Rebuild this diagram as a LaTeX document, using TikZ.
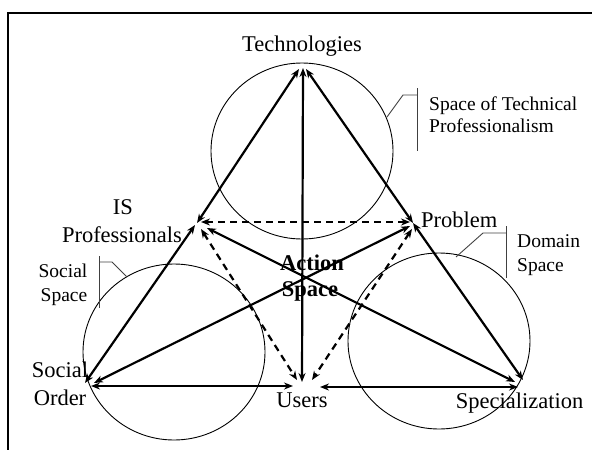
\documentclass[tikz,border=0pt]{standalone}
\usepackage{fontspec}
\setmainfont{Liberation Serif}
\usetikzlibrary{arrows.meta}
\begin{document}
\begin{tikzpicture}[x=1pt,y=-1pt,
  big/.style={font=\fontsize{22.5}{28}\selectfont, inner sep=0pt, anchor=base},
  bigbold/.style={font=\fontsize{22.5}{28}\selectfont\bfseries, inner sep=0pt, anchor=base},
  small/.style={font=\fontsize{19.5}{22}\selectfont, inner sep=0pt, anchor=base west},
  smallc/.style={font=\fontsize{19.5}{22}\selectfont, inner sep=0pt, anchor=base},
  space/.style={line width=0.9pt},
  bracket/.style={line width=0.9pt, black!75},
  link/.style={line width=2.2pt, {Stealth[length=9pt,width=7pt]}-{Stealth[length=9pt,width=7pt]}},
  dlink/.style={link, dash pattern=on 7pt off 5pt}
]
\useasboundingbox (0,0) rectangle (592,450);
% frame
\draw[line width=2pt] (8,451) -- (8,13) -- (594,13);

% circles (spaces)
\draw[space] (302,151) ellipse [x radius=91, y radius=88];
\draw[space] (174,352) ellipse [x radius=91, y radius=88];
\draw[space] (439,341) ellipse [x radius=91, y radius=88];

% labels
\node[big] (tech) at (302,51) {Technologies};
\node[big] (is1) at (123,214) {IS};
\node[big] (is2) at (122,242) {Professionals};
\node[big, anchor=base west] (prob) at (421,227) {Problem};
\node[bigbold] (act1) at (312,270) {Action};
\node[bigbold] (act2) at (310,296) {Space};
\node[big] (so1) at (60,377) {Social};
\node[big] (so2) at (60,405) {Order};
\node[big] (users) at (302,407) {Users};
\node[big] (spec) at (519.5,408) {Specialization};

\node[small] (tp1) at (429,110) {Space of Technical};
\node[small] (tp2) at (429,132) {Professionalism};
\node[small] (ds1) at (517,247) {Domain};
\node[small] (ds2) at (517,271) {Space};
\node[smallc] (ss1) at (63,277) {Social};
\node[smallc] (ss2) at (64,301) {Space};

% brackets
\coordinate (b1a) at (417,88); \coordinate (b1b) at (417,151);
\coordinate (b1c) at (403,95); \coordinate (b1d) at (387,117);
\draw[bracket] (b1a) -- (b1b);
\draw[bracket] (417,95) -- (b1c) -- (b1d);
\coordinate (b2a) at (506,226); \coordinate (b2b) at (506,278);
\coordinate (b2c) at (483,233); \coordinate (b2d) at (456,257);
\draw[bracket] (b2a) -- (b2b);
\draw[bracket] (506,233) -- (b2c) -- (b2d);
\coordinate (b3a) at (99,256); \coordinate (b3b) at (99,308);
\coordinate (b3c) at (112,262); \coordinate (b3d) at (127,277);
\draw[bracket] (b3a) -- (b3b);
\draw[bracket] (99,262) -- (b3c) -- (b3d);

% endpoints
\coordinate (tL) at (299,69);
\coordinate (tM) at (303,68);
\coordinate (tR) at (306,69);
\coordinate (isT) at (197,223);
\coordinate (isB) at (195,225);
\coordinate (isH) at (201,222);
\coordinate (isD) at (201,229);
\coordinate (isX) at (207,228);
\coordinate (pT) at (413,223);
\coordinate (pH) at (410,222);
\coordinate (pD) at (412,229);
\coordinate (pX) at (410,226);
\coordinate (soU) at (85,383);
\coordinate (soX) at (94,383);
\coordinate (soH) at (91,386);
\coordinate (uT) at (302,382);
\coordinate (uL) at (297,380);
\coordinate (uR) at (312,380);
\coordinate (uHL) at (293,386);
\coordinate (uHR) at (320,387);
\coordinate (spX) at (515,382);
\coordinate (spP) at (523,380);
\coordinate (spH) at (518,387);

% connectors
\draw[link] (isT) -- (tL);
\draw[link] (soU) -- (isB);
\draw[link] (tM) -- (uT);
\draw[link] (tR) -- (pT);
\draw[link] (pT) -- (spP);
\draw[link] (isX) -- (spX);
\draw[link] (soX) -- (pX);
\draw[link] (soH) -- (uHL);
\draw[link] (uHR) -- (spH);
\draw[dlink] (isH) -- (pH);
\draw[dlink] (isD) -- (uL);
\draw[dlink] (pD) -- (uR);
\end{tikzpicture}
\end{document}
